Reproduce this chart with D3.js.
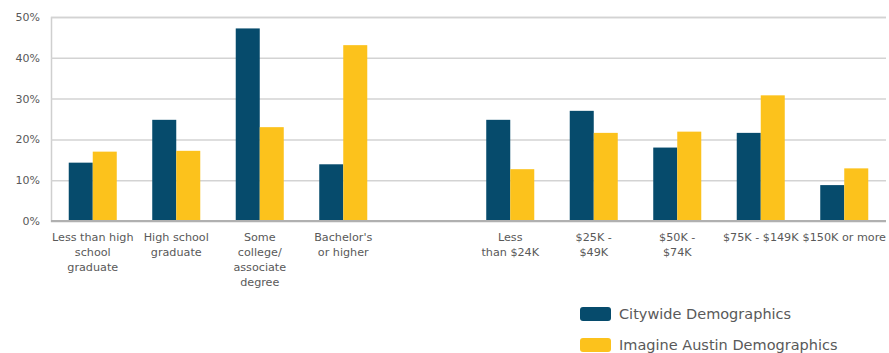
<!DOCTYPE html>
<html><head><meta charset="utf-8">
<script src="https://cdn.jsdelivr.net/npm/d3@7"></script>
<style>body{margin:0;background:#fff;} svg{display:block;}</style>
</head><body>
<svg id="chart" width="889" height="353"></svg>
<script>
const categories = ["edu1","edu2","edu3","edu4","gap","inc1","inc2","inc3","inc4","inc5"];
const categoryLabels = [
  ["Less than high","school","graduate"],
  ["High school","graduate"],
  ["Some","college/","associate","degree"],
  ["Bachelor's","or higher"],
  [],
  ["Less","than $24K"],
  ["$25K -","$49K"],
  ["$50K -","$74K"],
  ["$75K - $149K"],
  ["$150K or more"]
];
const seriesNames = ["Citywide Demographics","Imagine Austin Demographics"];
const citywide = [14.3, 24.8, 47.2, 13.9, null, 24.8, 27.0, 18.0, 21.6, 8.8];
const imagine  = [17.0, 17.2, 23.0, 43.1, null, 12.7, 21.6, 21.9, 30.8, 12.9];
const yTicks = [0,10,20,30,40,50];
const colors = ["#064b6c","#fcc21c"];

(function(){
const svg = d3.select("#chart");
const mLeft = 51, mRight = 886, mTop = 17, mBottom = 221;
const font = "'DejaVu Sans', sans-serif";
const textColor = "#595959";

const x0 = d3.scaleBand().domain(categories).range([mLeft, mRight]).paddingInner(0.425).paddingOuter(0.2125);
const x1 = d3.scaleBand().domain([0,1]).range([0, x0.bandwidth()]);
const y = d3.scaleLinear().domain([0,50]).range([mBottom, mTop]);

const yAxis = d3.axisLeft(y).tickValues(yTicks).tickFormat(d => d + "%").tickSize(-(mRight-mLeft)).tickPadding(11);
const gAxis = svg.append("g").attr("transform", `translate(${mLeft},0)`).call(yAxis);
gAxis.select(".domain").attr("stroke", "#cfcfcf").attr("stroke-width", 1.5);
gAxis.selectAll(".tick line").attr("stroke", "#d3d3d3").attr("stroke-width", 1.5);
gAxis.selectAll(".tick text").attr("fill", textColor).style("font-family", font).style("font-size", "11px");

const series = [citywide, imagine];
series.forEach((vals, s) => {
  svg.append("g").selectAll("rect").data(categories.map((c,i)=>({c, v: vals[i]})).filter(d => d.v != null))
    .join("rect")
    .attr("x", d => x0(d.c) + x1(s))
    .attr("width", x1.bandwidth())
    .attr("y", d => y(d.v))
    .attr("height", d => y(0) - y(d.v))
    .attr("fill", colors[s]);
});

svg.append("line").attr("x1", mLeft).attr("x2", mRight).attr("y1", y(0)).attr("y2", y(0))
  .attr("stroke", "#b0b0b0").attr("stroke-width", 2);

const xl = svg.append("g");
categories.forEach((c, i) => {
  const cx = x0(c) + x0.bandwidth()/2;
  const t = xl.append("text").attr("x", cx).attr("y", 241)
    .attr("text-anchor", "middle").attr("fill", textColor)
    .style("font-family", font).style("font-size", "11.2px");
  categoryLabels[i].forEach((line, j) => {
    t.append("tspan").attr("x", cx).attr("dy", j === 0 ? 0 : 15).text(line);
  });
});

const lg = svg.append("g");
seriesNames.forEach((n, i) => {
  const yy = 307 + i * 31;
  lg.append("rect").attr("x", 580).attr("y", yy).attr("width", 31).attr("height", 14).attr("rx", 3).attr("fill", colors[i]);
  lg.append("text").attr("x", 619).attr("y", yy + 12).attr("fill", textColor)
    .style("font-family", font).style("font-size", "14.5px").text(n);
});
})();
</script>
</body></html>
